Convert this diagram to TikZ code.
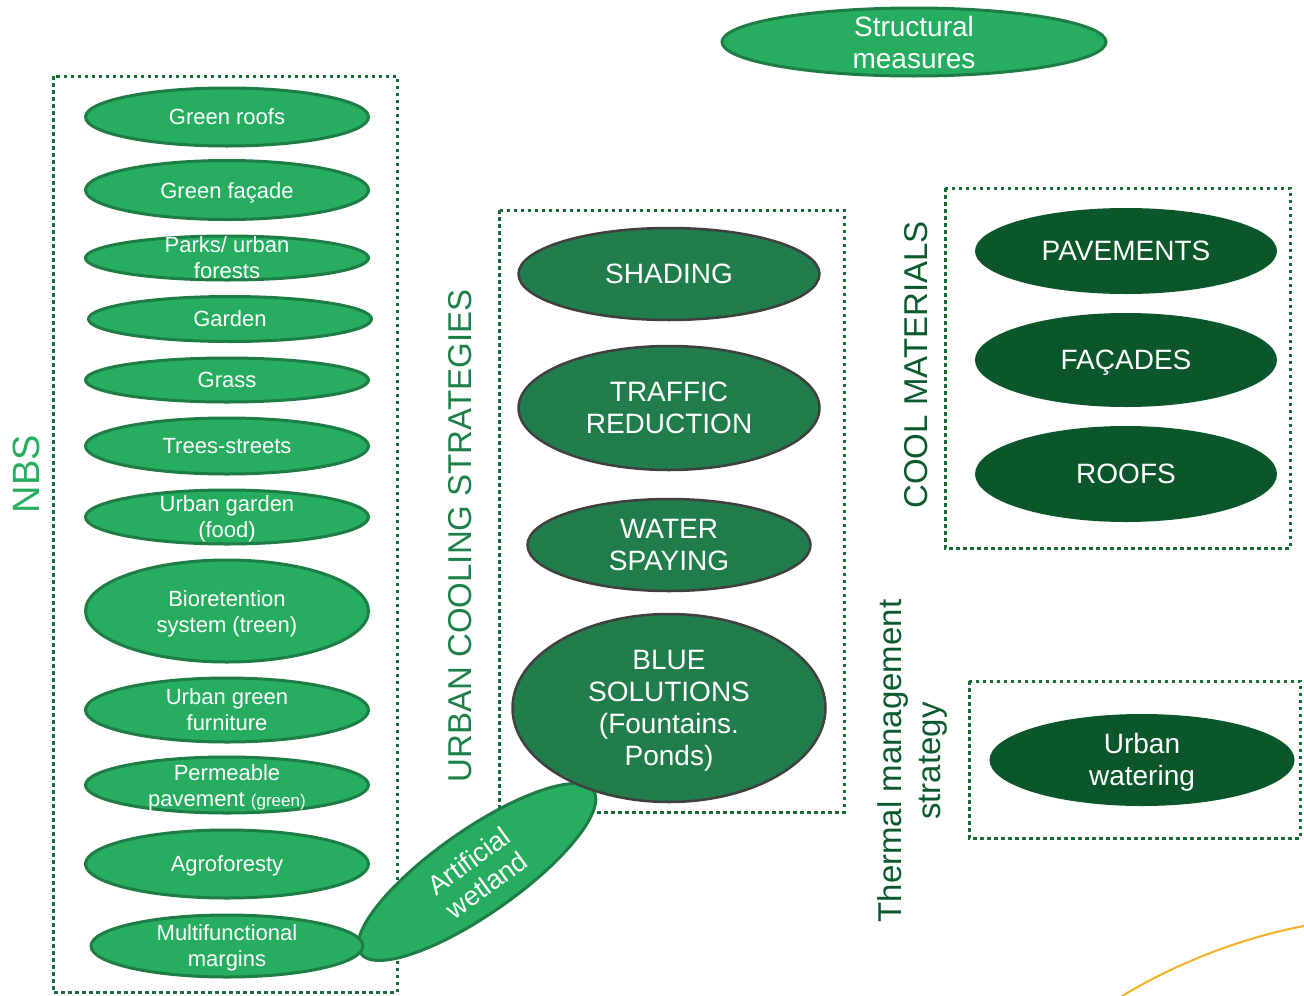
\documentclass[tikz,border=0pt]{standalone}
\usepackage{fontspec}
\setmainfont{Liberation Sans}
\usetikzlibrary{shapes.geometric}
\definecolor{lfill}{HTML}{26AD60}
\definecolor{lborder}{HTML}{1E7D45}
\definecolor{mfill}{HTML}{217D4B}
\definecolor{mborder}{HTML}{404040}
\definecolor{dfill}{HTML}{0B572B}
\definecolor{dotcol}{HTML}{1A6B3A}
\definecolor{lbllight}{HTML}{26AD60}
\definecolor{lblmid}{HTML}{1E8049}
\definecolor{lbldark}{HTML}{0B5A2D}
\definecolor{orangec}{HTML}{F5B025}
\begin{document}
\begin{tikzpicture}[x=1pt,y=-1pt,
  nbsell/.style={ellipse, draw=lborder, fill=lfill, line width=3pt, inner sep=0pt, minimum width=283pt},
  nbstxt/.style={text=white, align=center, font=\fontsize{22}{26}\selectfont, inner sep=0pt},
  ucsell/.style={ellipse, draw=mborder, fill=mfill, line width=2.5pt, inner sep=0pt},
  ucstxt/.style={text=white, align=center, font=\fontsize{28}{32}\selectfont, inner sep=0pt},
  cmell/.style={ellipse, fill=dfill, inner sep=0pt},
  dotbox/.style={draw=dotcol, line width=3pt, dash pattern=on 3.5pt off 3.5pt},
  biglbl/.style={font=\fontsize{33}{38}\selectfont, inner sep=0pt, align=center, rotate=90}]
\useasboundingbox (0,0) rectangle (1304,996);

% dotted group boxes
\draw[dotbox] (53,76) rectangle (397,992);
\draw[dotbox] (499,210) rectangle (844,812);
\draw[dotbox] (945,188) rectangle (1290,548);
\draw[dotbox] (969,681) rectangle (1300,838);

% Structural measures
\node[nbsell, minimum width=384pt, minimum height=68pt] (sm) at (914,42) {};
\node[ucstxt] (smt) at (sm) {Structural\\measures};

% group labels
\node[biglbl, text=lbllight, font=\fontsize{38}{42}\selectfont] (nbsl) at (26,474) {NBS};
\node[biglbl, text=lblmid] (ucsl) at (460,536) {URBAN COOLING STRATEGIES};
\node[biglbl, text=lbldark] (cml) at (916,365) {COOL MATERIALS};
\node[biglbl, text=lbldark, font=\fontsize{33}{39}\selectfont] (tml) at (912,761) {Thermal management\\strategy};

% NBS ellipses
\node[nbsell, minimum height=58pt] (n1) at (227,117) {};
\node[nbstxt] at (n1) {Green roofs};
\node[nbsell, minimum height=59pt] (n2) at (227,190) {};
\node[nbstxt, yshift=-3pt] at (n2) {Green façade};
\node[nbsell, minimum height=44pt] (n3) at (227,258) {};
\node[nbstxt] at (n3) {Parks/ urban\\forests};
\node[nbsell, minimum height=45pt] (n4) at (230,319) {};
\node[nbstxt] at (n4) {Garden};
\node[nbsell, minimum height=44pt] (n5) at (227,380) {};
\node[nbstxt] at (n5) {Grass};
\node[nbsell, minimum height=56pt] (n6) at (227,446) {};
\node[nbstxt] at (n6) {Trees-streets};
\node[nbsell, minimum height=54pt] (n7) at (227,517) {};
\node[nbstxt, yshift=-2pt] at (n7) {Urban garden\\(food)};
\node[nbsell, minimum height=102pt] (n8) at (227,611) {};
\node[nbstxt, yshift=-2.5pt] at (n8) {Bioretention\\system (treen)};
\node[nbsell, minimum height=64pt] (n9) at (227,710) {};
\node[nbstxt] at (n9) {Urban green\\furniture};
\node[nbsell, minimum height=56pt] (n10) at (227,785) {};
\node[nbstxt, yshift=-3pt] at (n10) {Permeable\\pavement {\fontsize{17}{20}\selectfont(green)}};
\node[nbsell, minimum height=68pt] (n11) at (227,864) {};
\node[nbstxt, yshift=-2pt] at (n11) {Agroforesty};

% Artificial wetland
\node[nbsell, minimum width=284pt, minimum height=84pt, rotate=35] (aw) at (477,872) {};
\node[nbstxt, rotate=36, font=\fontsize{27}{30}\selectfont, yshift=-1pt] at (aw) {Artificial\\wetland};

\node[nbsell, minimum width=272pt, minimum height=62pt] (n12) at (227,946) {};
\node[nbstxt, yshift=-2pt] at (n12) {Multifunctional\\margins};

% Urban cooling strategies
\node[ucsell, minimum width=301pt, minimum height=92pt] (u1) at (669,274) {};
\node[ucstxt] at (u1) {SHADING};
\node[ucsell, minimum width=301pt, minimum height=124pt] (u2) at (669,408) {};
\node[ucstxt] at (u2) {TRAFFIC\\REDUCTION};
\node[ucsell, minimum width=283pt, minimum height=92pt] (u3) at (669,545) {};
\node[ucstxt] at (u3) {WATER\\SPAYING};
\node[ucsell, minimum width=313pt, minimum height=188pt] (u4) at (669,708) {};
\node[ucstxt, yshift=-3pt] at (u4) {BLUE\\SOLUTIONS\\(Fountains.\\Ponds)};

% Cool materials
\node[cmell, minimum width=302pt, minimum height=86pt] (c1) at (1126,251) {};
\node[ucstxt] at (c1) {PAVEMENTS};
\node[cmell, minimum width=302pt, minimum height=94pt] (c2) at (1126,360) {};
\node[ucstxt, yshift=-3pt] at (c2) {FAÇADES};
\node[cmell, minimum width=302pt, minimum height=96pt] (c3) at (1126,474) {};
\node[ucstxt] at (c3) {ROOFS};

% Thermal management
\node[cmell, minimum width=305pt, minimum height=92pt] (t1) at (1142,760) {};
\node[ucstxt, yshift=-2.5pt] at (t1) {Urban\\watering};

% orange curve
\coordinate (o1) at (1122,996);
\coordinate (o2) at (1304,926);
\draw[orangec, line width=2pt] (o1) .. controls (1165,970) and (1230,940) .. (o2);
\end{tikzpicture}
\end{document}
